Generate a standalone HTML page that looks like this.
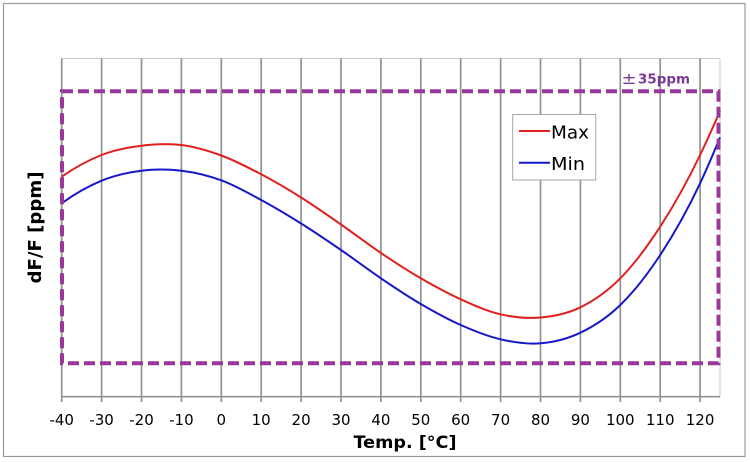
<!DOCTYPE html>
<html><head><meta charset="utf-8"><style>
html,body{margin:0;padding:0;background:#fff;}
svg{display:block;}
text{font-family:"DejaVu Sans","Liberation Sans",sans-serif;}
</style></head><body>
<svg width="750" height="462" viewBox="0 0 750 462" xmlns="http://www.w3.org/2000/svg">
<rect x="0" y="0" width="750" height="462" fill="#fff"/>
<rect x="3.5" y="3.5" width="741.5" height="453" fill="none" stroke="#9a9a9a" stroke-width="1.2"/>
<!-- plot border top/right -->
<line x1="61.7" y1="58.5" x2="720" y2="58.5" stroke="#c8c8c8" stroke-width="1"/>
<line x1="720" y1="58.5" x2="720" y2="396.7" stroke="#c8c8c8" stroke-width="1"/>
<!-- gridlines -->
<g stroke="#929292" stroke-width="1.7">
<line x1="61.7" y1="58.5" x2="61.7" y2="402"/>
<line x1="101.6" y1="58.5" x2="101.6" y2="402"/>
<line x1="141.5" y1="58.5" x2="141.5" y2="402"/>
<line x1="181.4" y1="58.5" x2="181.4" y2="402"/>
<line x1="221.3" y1="58.5" x2="221.3" y2="402"/>
<line x1="261.2" y1="58.5" x2="261.2" y2="402"/>
<line x1="301.1" y1="58.5" x2="301.1" y2="402"/>
<line x1="341" y1="58.5" x2="341" y2="402"/>
<line x1="380.9" y1="58.5" x2="380.9" y2="402"/>
<line x1="420.8" y1="58.5" x2="420.8" y2="402"/>
<line x1="460.7" y1="58.5" x2="460.7" y2="402"/>
<line x1="500.6" y1="58.5" x2="500.6" y2="402"/>
<line x1="540.5" y1="58.5" x2="540.5" y2="402"/>
<line x1="580.4" y1="58.5" x2="580.4" y2="402"/>
<line x1="620.3" y1="58.5" x2="620.3" y2="402"/>
<line x1="660.2" y1="58.5" x2="660.2" y2="402"/>
<line x1="700.1" y1="58.5" x2="700.1" y2="402"/>
</g>
<line x1="61" y1="396.7" x2="720" y2="396.7" stroke="#929292" stroke-width="1.7"/>
<!-- curves -->
<path fill="none" stroke="#e0201e" stroke-width="2" d="M61.7 176.7 C75 167.4 88.3 160.17 101.6 155 C114.9 149.83 128.2 147.37 141.5 145.7 C154.8 144.03 168.1 143.37 181.4 145 C194.7 146.63 208 150.62 221.3 155.5 C234.6 160.38 247.9 167.3 261.2 174.3 C274.5 181.3 287.8 189.13 301.1 197.5 C314.4 205.87 327.7 215.25 341 224.5 C354.3 233.75 367.6 244.03 380.9 253 C394.2 261.97 407.5 270.58 420.8 278.3 C434.1 286.02 447.4 293.3 460.7 299.3 C474 305.3 487.3 311.27 500.6 314.3 C513.9 317.33 527.2 318.67 540.5 317.5 C553.8 316.33 567.1 313.83 580.4 307.3 C593.7 300.77 607 291.73 620.3 278.3 C633.6 264.87 646.9 247.25 660.2 226.7 C673.5 206.15 686.8 182.67 700.1 155 C706.75 141.17 713.4 126.4 720.05 110.7"/>
<path fill="none" stroke="#1818c8" stroke-width="2" d="M61.7 203.3 C75 193.67 88.3 186.13 101.6 180.7 C114.9 175.27 128.2 172.37 141.5 170.7 C154.8 169.03 168.1 169.1 181.4 170.7 C194.7 172.3 208 175.42 221.3 180.3 C234.6 185.18 247.9 192.8 261.2 200 C274.5 207.2 287.8 215.17 301.1 223.5 C314.4 231.83 327.7 240.87 341 250 C354.3 259.13 367.6 269.3 380.9 278.3 C394.2 287.3 407.5 296.22 420.8 304 C434.1 311.78 447.4 319.12 460.7 325 C474 330.88 487.3 336.25 500.6 339.3 C513.9 342.35 527.2 344.4 540.5 343.3 C553.8 342.2 567.1 339.08 580.4 332.7 C593.7 326.32 607 317.95 620.3 305 C633.6 292.05 646.9 275.28 660.2 255 C673.5 234.72 686.8 211.7 700.1 183.3 C706.75 169.1 713.4 153.77 720.05 137.3"/>
<!-- dashed limit box -->
<rect x="62" y="91.2" width="656.5" height="272" fill="none" stroke="#9a379a" stroke-width="4" stroke-dasharray="11 5"/>
<!-- ±35ppm -->
<text x="621.5" y="84" font-size="16" fill="#7a3a95" textLength="15" lengthAdjust="spacingAndGlyphs">±</text>
<text x="638" y="83.5" font-size="13.5" font-weight="bold" fill="#7a3a95" textLength="52" lengthAdjust="spacingAndGlyphs">35ppm</text>
<!-- legend -->
<rect x="512.7" y="114.5" width="83" height="65.5" fill="#fff" stroke="#a6a6a6" stroke-width="1"/>
<line x1="519" y1="131" x2="550" y2="131" stroke="#e0201e" stroke-width="2"/>
<line x1="519" y1="162.7" x2="550" y2="162.7" stroke="#1818c8" stroke-width="2"/>
<text x="551" y="138.5" font-size="17.5" fill="#000" textLength="38" lengthAdjust="spacingAndGlyphs">Max</text>
<text x="551" y="170" font-size="17.5" fill="#000" textLength="34" lengthAdjust="spacingAndGlyphs">Min</text>
<!-- tick labels -->
<g font-size="15" fill="#000" text-anchor="middle">
<text x="61.7" y="425">-40</text>
<text x="101.6" y="425">-30</text>
<text x="141.5" y="425">-20</text>
<text x="181.4" y="425">-10</text>
<text x="221.3" y="425">0</text>
<text x="261.2" y="425">10</text>
<text x="301.1" y="425">20</text>
<text x="341" y="425">30</text>
<text x="380.9" y="425">40</text>
<text x="420.8" y="425">50</text>
<text x="460.7" y="425">60</text>
<text x="500.6" y="425">70</text>
<text x="540.5" y="425">80</text>
<text x="580.4" y="425">90</text>
<text x="620.3" y="425">100</text>
<text x="660.2" y="425">110</text>
<text x="700.1" y="425">120</text>
</g>
<text x="405" y="448" font-size="17" font-weight="bold" text-anchor="middle" fill="#000" textLength="103" lengthAdjust="spacingAndGlyphs">Temp. [°C]</text>
<text transform="translate(41,227.5) rotate(-90)" x="0" y="0" font-size="17.5" font-weight="bold" text-anchor="middle" fill="#000" textLength="112" lengthAdjust="spacingAndGlyphs">dF/F [ppm]</text>
</svg>
</body></html>
